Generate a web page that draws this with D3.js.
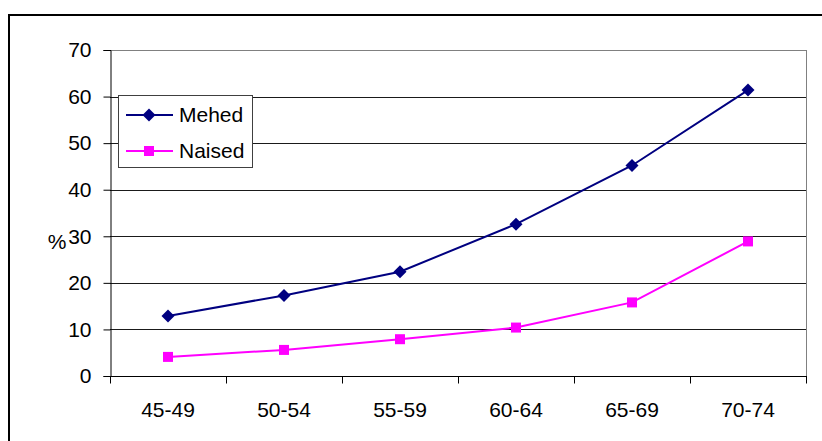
<!DOCTYPE html>
<html>
<head>
    <script src="https://d3js.org/d3.v7.min.js"></script>
    <style>
        body { margin: 0; background: #fff; }
        text { font-family: "Liberation Sans", Arial, sans-serif; }
    </style>
</head>
<body>
<script>
    // data
    let categories = ["45-49", "50-54", "55-59", "60-64", "65-69", "70-74"];
    let mehed = [12.9, 17.3, 22.4, 32.6, 45.2, 61.4];
    let naised = [4.1, 5.6, 7.9, 10.4, 15.8, 28.9];
    let yTicks = [0, 10, 20, 30, 40, 50, 60, 70];

    let width = 822;
    let height = 441;
    let fontSize = "21px";
    let svg = d3.select("body").append("svg")
        .attr("width", width)
        .attr("height", height);

    // outer frame (open on right and bottom, as in the picture)
    svg.append("path")
        .attr("d", "M9,441 V15 H822")
        .attr("fill", "none")
        .attr("stroke", "black")
        .attr("stroke-width", 2);

    let plotLeft = 110, plotRight = 806, plotTop = 50, plotBottom = 376;

    let x = d3.scaleBand()
        .domain(categories)
        .range([plotLeft, plotRight]);

    let y = d3.scaleLinear()
        .domain([0, 70])
        .range([plotBottom, plotTop]);

    // grid lines
    svg.selectAll(".grid")
        .data(yTicks.filter(d => d > 0))
        .join("line")
        .attr("class", "grid")
        .attr("x1", plotLeft)
        .attr("x2", plotRight)
        .attr("y1", d => Math.round(y(d)) + 0.5)
        .attr("y2", d => Math.round(y(d)) + 0.5)
        .attr("stroke", d => d == 70 ? "#808080" : "#1a1a1a")
        .attr("stroke-width", 1);

    // right edge of plot area
    svg.append("line")
        .attr("x1", plotRight + 0.5).attr("x2", plotRight + 0.5)
        .attr("y1", plotTop).attr("y2", plotBottom)
        .attr("stroke", "#808080");

    // y axis
    let yAxis = d3.axisLeft(y)
        .tickValues(yTicks)
        .tickSize(7)
        .tickPadding(12);
    let gy = svg.append("g")
        .attr("transform", `translate(${plotLeft + 0.5},0)`)
        .call(yAxis);
    gy.select(".domain").attr("stroke", "black");
    gy.selectAll(".tick line").attr("stroke", "black");
    gy.selectAll("text")
        .style("font-size", fontSize)
        .attr("fill", "black");

    // x axis, ticks at category boundaries
    let gx = svg.append("g")
        .attr("transform", `translate(0,${plotBottom + 0.5})`);
    gx.append("line")
        .attr("x1", plotLeft).attr("x2", plotRight + 1)
        .attr("stroke", "black");
    let bounds = categories.map(c => x(c)).concat([plotRight]);
    gx.selectAll(".xtick")
        .data(bounds)
        .join("line")
        .attr("class", "xtick")
        .attr("x1", d => Math.round(d) + 0.5)
        .attr("x2", d => Math.round(d) + 0.5)
        .attr("y1", 0)
        .attr("y2", 7)
        .attr("stroke", "black");
    gx.selectAll(".xlabel")
        .data(categories)
        .join("text")
        .attr("class", "xlabel")
        .attr("x", d => x(d) + x.bandwidth() / 2)
        .attr("y", 40)
        .attr("text-anchor", "middle")
        .style("font-size", fontSize)
        .text(d => d);

    // axis title
    svg.append("text")
        .attr("x", 57)
        .attr("y", 249)
        .attr("text-anchor", "middle")
        .style("font-size", fontSize)
        .text("%");

    let line = d3.line()
        .x((d, i) => x(categories[i]) + x.bandwidth() / 2)
        .y(d => y(d));

    let navy = "#000080", pink = "#ff00ff";

    svg.append("path")
        .datum(mehed)
        .attr("d", line)
        .attr("fill", "none")
        .attr("stroke", navy)
        .attr("stroke-width", 2);

    svg.append("path")
        .datum(naised)
        .attr("d", line)
        .attr("fill", "none")
        .attr("stroke", pink)
        .attr("stroke-width", 2);

    let diamond = d3.symbol().type(d3.symbolSquare).size(85);

    svg.selectAll(".m-pt")
        .data(mehed)
        .join("path")
        .attr("class", "m-pt")
        .attr("d", diamond)
        .attr("transform", (d, i) => `translate(${x(categories[i]) + x.bandwidth() / 2},${y(d)}) rotate(45)`)
        .attr("fill", navy);

    svg.selectAll(".n-pt")
        .data(naised)
        .join("rect")
        .attr("class", "n-pt")
        .attr("x", (d, i) => x(categories[i]) + x.bandwidth() / 2 - 5)
        .attr("y", d => y(d) - 5)
        .attr("width", 10)
        .attr("height", 10)
        .attr("fill", pink);

    // legend
    let legend = svg.append("g");
    legend.append("rect")
        .attr("x", 118.5).attr("y", 95.5)
        .attr("width", 134).attr("height", 72)
        .attr("fill", "white")
        .attr("stroke", "#404040");

    let legendItems = [
        { name: "Mehed", color: navy, y: 115 },
        { name: "Naised", color: pink, y: 151 }
    ];
    legendItems.forEach((it, i) => {
        legend.append("line")
            .attr("x1", 126).attr("x2", 173)
            .attr("y1", it.y).attr("y2", it.y)
            .attr("stroke", it.color)
            .attr("stroke-width", 2);
        if (i == 0) {
            legend.append("path")
                .attr("d", diamond)
                .attr("transform", `translate(149,${it.y}) rotate(45)`)
                .attr("fill", it.color);
        } else {
            legend.append("rect")
                .attr("x", 144).attr("y", it.y - 5)
                .attr("width", 10).attr("height", 10)
                .attr("fill", it.color);
        }
        legend.append("text")
            .attr("x", 179)
            .attr("y", it.y + 7)
            .style("font-size", fontSize)
            .text(it.name);
    });
</script>
</body>
</html>
